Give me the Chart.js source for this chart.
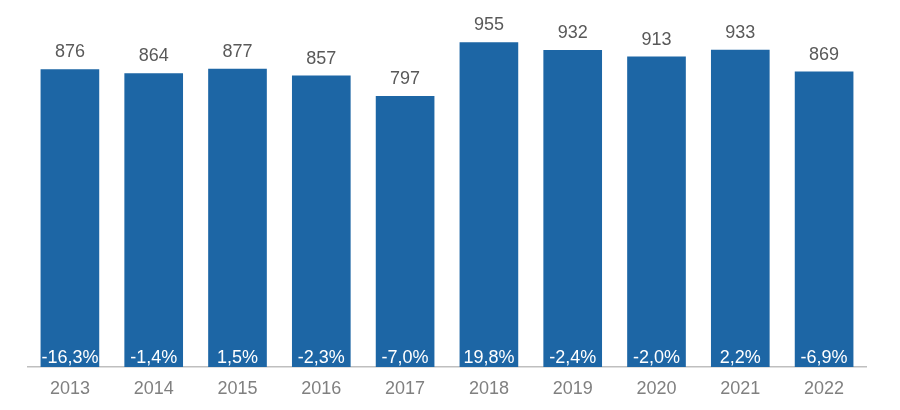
<!DOCTYPE html>
<html>
<head>
<meta charset="utf-8">
<script src="https://cdn.jsdelivr.net/npm/chart.js@4"></script>
<style>
  html, body { margin: 0; padding: 0; background: #fff; }
  #wrap { width: 900px; height: 410px; }
</style>
</head>
<body>
<div id="wrap"><canvas id="chart"></canvas></div>
<script>
var years = ["2013", "2014", "2015", "2016", "2017", "2018", "2019", "2020", "2021", "2022"];
var totals = [876, 864, 877, 857, 797, 955, 932, 913, 933, 869];
var changes = [-16.3, -1.4, 1.5, -2.3, -7.0, 19.8, -2.4, -2.0, 2.2, -6.9];

function formatChange(v) {
	return v.toFixed(1).replace(".", ",") + "%";
}

// value on top, yearly change inside at the foot of each bar
var barLabels = {
	id: "barLabels",
	afterDatasetsDraw: function(chart) {
		var ctx = chart.ctx;
		var meta = chart.getDatasetMeta(0);
		var base = chart.scales.y.getPixelForValue(0);
		ctx.save();
		ctx.textAlign = "center";
		ctx.textBaseline = "alphabetic";
		meta.data.forEach(function(bar, i) {
			ctx.font = "18px 'Liberation Sans', Arial, sans-serif";
			ctx.fillStyle = "#595959";
			ctx.fillText(String(totals[i]), bar.x, bar.y - 12);

			ctx.fillStyle = "#ffffff";
			ctx.fillText(formatChange(changes[i]), bar.x, base - 4);
		});
		ctx.restore();
	}
};

new Chart(document.getElementById("chart"), {
	type: "bar",
	data: {
		labels: years,
		datasets: [{
			data: totals,
			backgroundColor: "#1d66a5",
			categoryPercentage: 0.7,
			barPercentage: 1.0
		}]
	},
	options: {
		responsive: true,
		maintainAspectRatio: false,
		animation: false,
		layout: { padding: { left: 28, right: 34, top: 27, bottom: 0 } },
		plugins: {
			legend: { display: false },
			tooltip: { enabled: false }
		},
		scales: {
			y: {
				display: false,
				min: 0,
				max: 1000
			},
			x: {
				grid: { display: false, drawTicks: false },
				border: { display: true, color: "#bfbfbf", width: 1.5 },
				afterFit: function(scale) { scale.height = 43; },
				ticks: {
					color: "#808080",
					padding: 11,
					font: { family: "'Liberation Sans', Arial, sans-serif", size: 18 }
				}
			}
		}
	},
	plugins: [barLabels]
});
</script>
</body>
</html>
